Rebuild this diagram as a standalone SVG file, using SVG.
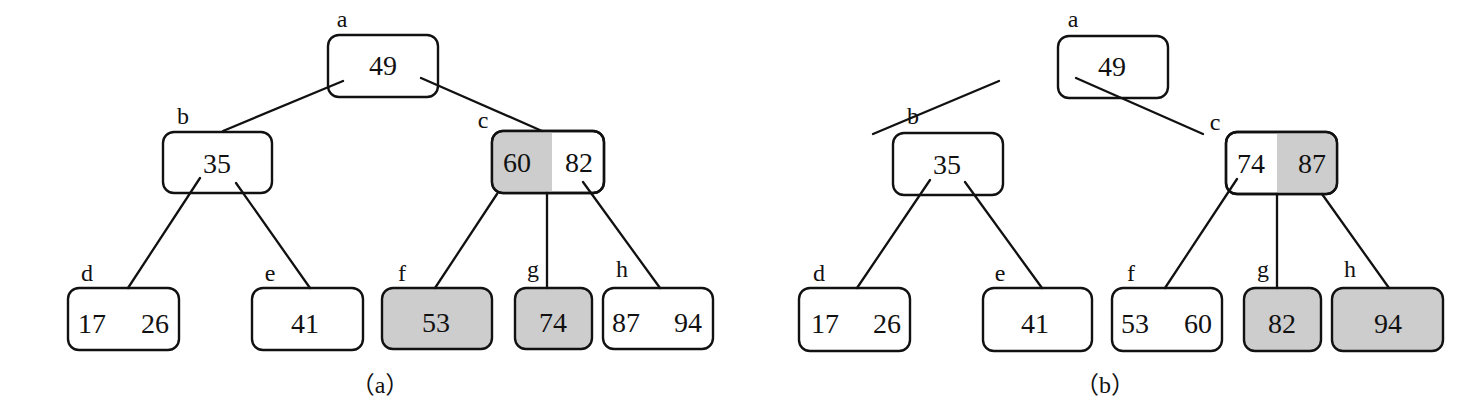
<svg xmlns="http://www.w3.org/2000/svg" width="1483" height="406" viewBox="0 0 1483 406">
<style>
.box{fill:#fff;stroke:#111;stroke-width:2.4}
.gbox{fill:#cdcdcd;stroke:#111;stroke-width:2.4}
.half{fill:#cdcdcd;stroke:none}
.edge{stroke:#111;stroke-width:2.3;fill:none;stroke-linecap:round}
.num{font-family:"Liberation Serif","Times New Roman",serif;font-size:28px;fill:#111;text-anchor:middle}
.lbl{font-family:"Liberation Serif","Times New Roman",serif;font-size:24px;fill:#111;text-anchor:middle}
.cap{font-family:"Liberation Serif",serif;font-size:24px;fill:#111;text-anchor:middle}
.par{font-family:"Noto Sans CJK SC",sans-serif}
</style>
<rect width="1483" height="406" fill="#fff"/>
<g id="a1"><text class="lbl" x="342" y="27">a</text><rect class="box" x="328" y="35" width="110" height="62" rx="11"/><text class="num" x="383" y="75">49</text></g>
<g id="b1"><text class="lbl" x="183" y="124">b</text><rect class="box" x="163" y="132" width="109" height="61" rx="11"/><text class="num" x="217" y="173">35</text></g>
<g id="c1"><text class="lbl" x="483" y="128">c</text><rect class="box" x="492" y="131" width="112" height="62" rx="11"/><path class="half" d="M503,132 H552 V192 H503 A10,10 0 0 1 493,182 V142 A10,10 0 0 1 503,132 Z"/><rect x="492" y="131" width="112" height="62" rx="11" fill="none" stroke="#111" stroke-width="2.4"/><text class="num" x="517" y="172">60</text><text class="num" x="579" y="172">82</text></g>
<g id="d1"><text class="lbl" x="87" y="281">d</text><rect class="box" x="68" y="288" width="111" height="62" rx="11"/><text class="num" x="92" y="333">17</text><text class="num" x="155" y="333">26</text></g>
<g id="e1"><text class="lbl" x="270" y="281">e</text><rect class="box" x="252" y="288" width="111" height="62" rx="11"/><text class="num" x="305" y="333">41</text></g>
<g id="f1"><text class="lbl" x="402" y="281">f</text><rect class="gbox" x="382" y="288" width="110" height="61" rx="11"/><text class="num" x="436" y="332">53</text></g>
<g id="g1"><text class="lbl" x="533" y="277">g</text><rect class="gbox" x="515" y="288" width="77" height="61" rx="11"/><text class="num" x="553" y="332">74</text></g>
<g id="h1"><text class="lbl" x="622" y="277">h</text><rect class="box" x="603" y="288" width="110" height="61" rx="11"/><text class="num" x="626" y="332">87</text><text class="num" x="688" y="332">94</text></g>
<text class="cap" x="380" y="393"><tspan class="par">（</tspan>a<tspan class="par">）</tspan></text>
<g id="a2"><text class="lbl" x="1073" y="27">a</text><rect class="box" x="1058" y="36" width="110" height="62" rx="11"/><text class="num" x="1112" y="76">49</text></g>
<g id="b2"><text class="lbl" x="913" y="124">b</text><rect class="box" x="893" y="133" width="110" height="62" rx="11"/><text class="num" x="947" y="174">35</text></g>
<g id="c2"><text class="lbl" x="1215" y="130">c</text><rect class="box" x="1226" y="132" width="111" height="62" rx="11"/><path class="half" d="M1277,133 H1326 A10,10 0 0 1 1336,143 V183 A10,10 0 0 1 1326,193 H1277 Z"/><rect x="1226" y="132" width="111" height="62" rx="11" fill="none" stroke="#111" stroke-width="2.4"/><text class="num" x="1251" y="173">74</text><text class="num" x="1312" y="173">87</text></g>
<g id="d2"><text class="lbl" x="819" y="281">d</text><rect class="box" x="799" y="288" width="111" height="63" rx="11"/><text class="num" x="825" y="333">17</text><text class="num" x="887" y="333">26</text></g>
<g id="e2"><text class="lbl" x="1000" y="281">e</text><rect class="box" x="983" y="288" width="109" height="63" rx="11"/><text class="num" x="1035" y="333">41</text></g>
<g id="f2"><text class="lbl" x="1131" y="281">f</text><rect class="box" x="1112" y="288" width="110" height="63" rx="11"/><text class="num" x="1135" y="333">53</text><text class="num" x="1198" y="333">60</text></g>
<g id="g2"><text class="lbl" x="1263" y="277">g</text><rect class="gbox" x="1244" y="288" width="77" height="63" rx="11"/><text class="num" x="1282" y="333">82</text></g>
<g id="h2"><text class="lbl" x="1350" y="277">h</text><rect class="gbox" x="1332" y="288" width="111" height="63" rx="11"/><text class="num" x="1388" y="333">94</text></g>
<text class="cap" x="1105" y="393"><tspan class="par">（</tspan>b<tspan class="par">）</tspan></text>
<g id="connectors">
<line class="edge" x1="343" y1="81" x2="223" y2="131"/>
<line class="edge" x1="421" y1="78" x2="542" y2="131"/>
<line class="edge" x1="200" y1="178" x2="128" y2="288"/>
<line class="edge" x1="236" y1="183" x2="310" y2="288"/>
<line class="edge" x1="497" y1="194" x2="435" y2="288"/>
<line class="edge" x1="547" y1="193" x2="547" y2="288"/>
<line class="edge" x1="583" y1="182" x2="660" y2="288"/>
<line class="edge" x1="873" y1="134" x2="999" y2="81"/>
<line class="edge" x1="1076" y1="78" x2="1203" y2="134"/>
<line class="edge" x1="930" y1="180" x2="857" y2="288"/>
<line class="edge" x1="965" y1="182" x2="1042" y2="288"/>
<line class="edge" x1="1237" y1="179" x2="1165" y2="288"/>
<line class="edge" x1="1277" y1="194" x2="1277" y2="288"/>
<line class="edge" x1="1322" y1="194" x2="1389" y2="288"/>
</g>
</svg>
